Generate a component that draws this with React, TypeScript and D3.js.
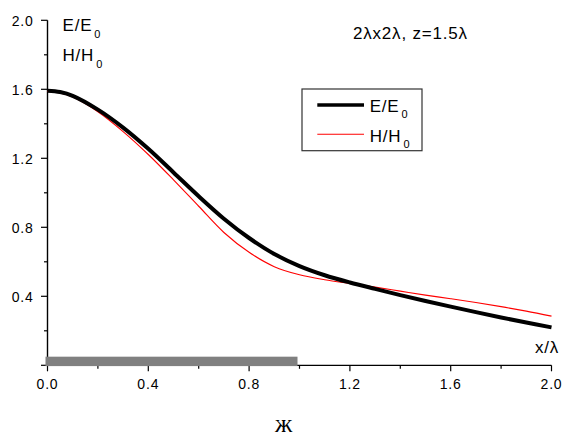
import React from "react";
import * as d3 from "d3";

const xValues = [0, 0.05, 0.1, 0.2, 0.3, 0.4, 0.5, 0.6, 0.7, 0.8, 0.9, 1.0, 1.1, 1.2, 1.3, 1.4, 1.5, 1.6, 1.7, 1.8, 1.9, 2.0];
const eValues = [1.592, 1.584, 1.562, 1.482, 1.378, 1.255, 1.118, 0.98, 0.85, 0.738, 0.645, 0.575, 0.522, 0.48, 0.443, 0.407, 0.373, 0.34, 0.308, 0.277, 0.248, 0.22];
const hValues = [1.588, 1.579, 1.555, 1.47, 1.355, 1.222, 1.075, 0.922, 0.77, 0.655, 0.572, 0.525, 0.496, 0.474, 0.453, 0.43, 0.407, 0.386, 0.364, 0.34, 0.314, 0.285];
const majorTicks = [0, 0.4, 0.8, 1.2, 1.6, 2.0];
const minorTicks = [0.2, 0.6, 1.0, 1.4, 1.8];
const yLabelTicks = [0.4, 0.8, 1.2, 1.6, 2.0];
const apertureBar = [0, 1]; // x range of the gray bar
const apertureHeight = 0.05;

const W = 568;
const H = 437;
const FONT = "'Liberation Sans', Arial, sans-serif";

export default function App() {
  const x = d3.scaleLinear().domain([0, 2]).range([47.5, 551.5]);
  const y = d3.scaleLinear().domain([0, 2]).range([365.3, 20.3]);

  const line = (vals: number[]) =>
    d3
      .line<number>()
      .x((_, i) => x(xValues[i]))
      .y((d) => y(d))
      .curve(d3.curveCatmullRom.alpha(0.5))(vals) || "";

  const tickFmt = d3.format(".1f");
  const ls = "0.8px";

  return (
    <svg
      width={W}
      height={H}
      style={{ position: "absolute", left: 0, top: 0, display: "block", background: "#fff" }}
    >
      {/* axes */}
      <line x1={x(0)} x2={x(2)} y1={y(0)} y2={y(0)} stroke="#000" strokeWidth={1.2} />
      <line x1={x(0)} x2={x(0)} y1={y(0)} y2={y(2)} stroke="#000" strokeWidth={1.4} />
      {majorTicks.map((t) => (
        <line key={"xm" + t} x1={x(t)} x2={x(t)} y1={y(0)} y2={y(0) + 6} stroke="#000" strokeWidth={1.2} />
      ))}
      {minorTicks.map((t) => (
        <line key={"xn" + t} x1={x(t)} x2={x(t)} y1={y(0)} y2={y(0) + 3.5} stroke="#000" strokeWidth={1.2} />
      ))}
      {majorTicks.map((t) => (
        <line key={"ym" + t} x1={x(0) - 6.5} x2={x(0)} y1={y(t)} y2={y(t)} stroke="#000" strokeWidth={1.2} />
      ))}
      {minorTicks.map((t) => (
        <line key={"yn" + t} x1={x(0) - 3.5} x2={x(0)} y1={y(t)} y2={y(t)} stroke="#000" strokeWidth={1.2} />
      ))}
      {majorTicks.map((t) => (
        <text
          key={"xl" + t}
          x={x(t)}
          y={388.5}
          textAnchor="middle"
          fontFamily={FONT}
          fontSize={14}
          letterSpacing={ls}
        >
          {tickFmt(t)}
        </text>
      ))}
      {yLabelTicks.map((t) => (
        <text
          key={"yl" + t}
          x={33.5}
          y={y(t) + 5.5}
          textAnchor="end"
          fontFamily={FONT}
          fontSize={14}
          letterSpacing={ls}
        >
          {tickFmt(t)}
        </text>
      ))}

      {/* gray aperture bar */}
      <rect
        x={x(apertureBar[0]) - 2}
        width={x(apertureBar[1]) - x(apertureBar[0])}
        y={y(apertureHeight)}
        height={y(0) - y(apertureHeight) + 0.8}
        fill="#808080"
      />

      {/* curves */}
      <path d={line(hValues)} fill="none" stroke="#ff0000" strokeWidth={1.1} />
      <path d={line(eValues)} fill="none" stroke="#000" strokeWidth={4} />

      {/* y labels */}
      <text x={62.5} y={31} fontFamily={FONT} fontSize={17} letterSpacing={ls}>
        E/E<tspan dx={2} dy={6.5} fontSize={11}>0</tspan>
      </text>
      <text x={62.5} y={61} fontFamily={FONT} fontSize={17} letterSpacing={ls}>
        H/H<tspan dx={2} dy={6.5} fontSize={11}>0</tspan>
      </text>

      {/* annotation */}
      <text x={353} y={39.3} fontFamily={FONT} fontSize={17} letterSpacing={ls}>
        2λx2λ, z=1.5λ
      </text>

      {/* x label */}
      <text x={535} y={353} fontFamily={FONT} fontSize={17} letterSpacing={ls}>
        x/λ
      </text>

      {/* legend */}
      <rect x={302} y={89} width={120} height={61.7} fill="#fff" stroke="#333" strokeWidth={1.2} />
      <line x1={317.3} x2={364} y1={105} y2={105} stroke="#000" strokeWidth={3.5} />
      <line x1={317.3} x2={364} y1={134.3} y2={134.3} stroke="#ff0000" strokeWidth={1.1} />
      <text x={369.7} y={111.7} fontFamily={FONT} fontSize={17} letterSpacing={ls}>
        E/E<tspan dx={2} dy={6.3} fontSize={11}>0</tspan>
      </text>
      <text x={369.7} y={141.7} fontFamily={FONT} fontSize={17} letterSpacing={ls}>
        H/H<tspan dx={2} dy={6.5} fontSize={11}>0</tspan>
      </text>

      {/* bottom caption */}
      <text x={275} y={431.7} fontFamily="'Liberation Serif', 'Times New Roman', serif" fontSize={25}>
        ж
      </text>
    </svg>
  );
}
